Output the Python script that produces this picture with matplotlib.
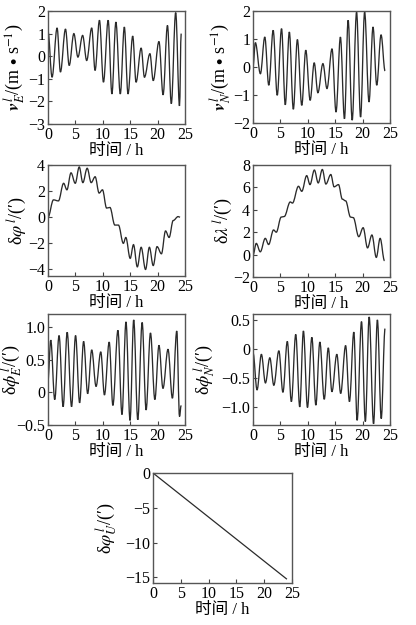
import matplotlib
matplotlib.use('Agg')
import matplotlib.pyplot as plt
from matplotlib.path import Path
from matplotlib.patches import PathPatch

plt.rcParams['mathtext.fontset'] = 'stix'
plt.rcParams['font.family'] = ['Liberation Serif', 'Noto Sans CJK SC']

# turning points of each curve (time in h, value)
vE_t = [0, 0.74, 1.66, 2.27, 3.19, 3.87, 4.72, 5.46, 6.32, 7.06, 7.98, 8.59, 9.39, 10.12,
        10.98, 11.66, 12.39, 13.19, 13.93, 14.6, 15.46, 16.07, 17.0, 17.6, 18.6, 19.2,
        20.25, 21.0, 21.8, 22.5, 23.3, 24.0, 24.3]
vE_v = [1.1, -0.93, 1.25, -0.7, 1.2, -0.41, 1.0, -0.04, 0.92, -0.19, 1.25, -0.63, 1.59, -1.15,
        1.59, -1.67, 1.51, -1.67, 1.29, -1.67, 0.89, -1.15, 0.36, -0.93, 0.11, -1.08,
        0.65, -1.71, 1.36, -2.1, 1.93, -2.2, 1.0]

vN_t = [0, 0.43, 1.35, 2.15, 2.88, 3.68, 4.42, 5.21, 5.89, 6.63, 7.36, 8.1, 8.9, 9.63,
        10.43, 11.17, 11.84, 12.76, 13.5, 14.42, 15.15, 15.95, 16.69, 17.36, 18.1, 18.9,
        19.63, 20.37, 21.17, 21.9, 22.58, 23.37, 24.1]
vN_v = [0, 0.87, -0.24, 1.07, -0.65, 1.31, -1.01, 1.37, -1.35, 1.25, -1.51, 0.98, -1.37, 0.6,
        -1.19, 0.15, -0.92, 0.12, -0.77, 0.65, -1.61, 1.07, -1.85, 1.67, -1.9, 1.96,
        -1.79, 1.96, -1.25, 1.43, -0.65, 1.15, -0.14]

lat_t = [0, 1.0, 1.9, 2.85, 3.45, 4.2, 4.97, 5.7, 6.36, 7.15, 7.88, 8.6, 9.33, 9.94, 10.7,
         11.3, 12.2, 12.85, 13.75, 14.2, 15.0, 15.6, 16.3, 17.0, 17.8, 18.5, 19.2, 19.9,
         20.7, 21.45, 22.1, 22.85, 23.75, 24.1]
lat_v = [0, 1.33, 1.25, 2.6, 2.1, 3.4, 2.6, 3.85, 2.65, 3.75, 2.65, 3.1, 1.85, 2.1, 0.7,
         0.75, -0.6, -0.6, -2.0, -1.55, -3.15, -2.1, -3.8, -2.3, -4.0, -2.3, -3.7, -2.25,
         -2.8, -1.05, -1.55, -0.25, 0.05, 0]

lon_t = [0, 0.6, 1.33, 2.24, 2.85, 3.75, 4.25, 5.15, 5.7, 6.8, 7.2, 8.3, 8.9, 9.8, 10.4,
         11.2, 11.9, 12.65, 13.3, 14.2, 14.8, 15.6, 16.3, 16.9, 17.8, 18.3, 19.3, 20.1,
         20.9, 21.7, 22.5, 23.2, 24.0]
lon_v = [-0.05, 1.0, 0.25, 1.45, 0.9, 2.2, 2.0, 3.35, 3.4, 4.7, 4.6, 6.1, 5.65, 7.05, 6.25,
         7.55, 6.4, 7.6, 6.3, 7.15, 6.05, 6.25, 4.95, 4.8, 3.35, 3.3, 1.6, 2.4,
         0.6, 1.75, -0.25, 1.45, -0.55]

phE_t = [0, 0.5, 1.23, 2.02, 2.76, 3.5, 4.3, 5.03, 5.77, 6.5, 7.24, 7.98, 8.77, 9.63, 10.3,
         11.17, 11.84, 12.76, 13.5, 14.23, 14.97, 15.64, 16.38, 17.18, 17.9, 18.7, 19.5,
         20.25, 20.98, 21.9, 22.7, 23.5, 24.0, 24.3]
phE_v = [0.19, 0.8, -0.11, 0.87, -0.22, 0.92, -0.22, 0.87, -0.16, 0.78, -0.02, 0.65, 0.09,
         0.62, -0.04, 0.77, -0.2, 0.95, -0.34, 1.08, -0.43, 1.11, -0.42, 1.07, -0.27, 0.91,
         -0.11, 0.72, 0.06, 0.66, -0.09, 0.94, -0.37, -0.2]

phN_t = [0, 0.74, 1.53, 2.27, 3.07, 3.8, 4.72, 5.46, 6.26, 7.0, 7.8, 8.53, 9.2, 9.94, 10.74,
         11.47, 12.2, 13.0, 13.74, 14.4, 15.3, 16.0, 16.9, 17.6, 18.4, 19.0, 19.8, 20.5,
         21.2, 22.0, 22.7, 23.4, 24.1]
phN_v = [-0.06, -0.7, -0.09, -0.58, -0.15, -0.62, -0.03, -0.74, 0.13, -0.9, 0.25, -0.99,
         0.31, -1.0, 0.2, -0.96, 0.12, -0.86, 0.02, -0.73, -0.09, -0.76, 0.06, -0.9, 0.29,
         -1.22, 0.47, -1.24, 0.55, -1.28, 0.5, -1.19, 0.35]

phU_t = [0, 24.0]
phU_v = [0, -15.2]

ylabels = [r'$\mathbfit{v}_{E}^{\,l}$/(m $\bullet$ s$^{-1}$)',
           r'$\mathbfit{v}_{N}^{\,l}$/(m $\bullet$ s$^{-1}$)',
           r'δ$\varphi^{\,l}$/(′)',
           r'δ$\lambda^{\,l}$/(′)',
           r'δ$\phi_{E}^{\,l}$/(′)',
           r'δ$\phi_{N}^{\,l}$/(′)',
           r'δ$\varphi_{U}^{\,l}$/(′)']

W, H = 416, 625


def rect(l, t, r, b):
    return [l / W, 1 - b / H, (r - l) / W, (b - t) / H]


def smooth(ax, ts, vs, color='#2a2a2a', lw=0.95):
    # cubic segments between turning points, flat at each turning point
    verts = [(ts[0], vs[0])]
    codes = [Path.MOVETO]
    for i in range(len(ts) - 1):
        d = ts[i + 1] - ts[i]
        verts += [(ts[i] + 0.36 * d, vs[i]), (ts[i + 1] - 0.36 * d, vs[i + 1]),
                  (ts[i + 1], vs[i + 1])]
        codes += [Path.CURVE4] * 3
    ax.add_patch(PathPatch(Path(verts, codes), fill=False, edgecolor=color, lw=lw))


def style(ax, ylim, yticks, ylabs, ylabel, label_x):
    ax.set_xlim(0, 25)
    ax.set_ylim(*ylim)
    ax.set_xticks([0, 5, 10, 15, 20, 25])
    ax.set_yticks(yticks)
    ax.set_yticklabels(ylabs)
    ax.tick_params(direction='in', length=3, labelsize=11.5, pad=2, color='#444444')
    for s in ax.spines.values():
        s.set_color('#555555')
        s.set_linewidth(1.0)
    ax.set_xlabel('时间 / h', fontsize=12, labelpad=0)
    ax.set_ylabel(ylabel, fontsize=13)
    # label_x: right edge of the rotated label, in pixels from the axes' left edge
    ax.yaxis.set_label_coords(label_x / 137, 0.5)


fig = plt.figure(figsize=(W / 100, H / 100), dpi=100)

ax1 = fig.add_axes(rect(48, 11, 185, 124))
smooth(ax1, vE_t, vE_v)
style(ax1, (-3, 2), [-3, -2, -1, 0, 1, 2], ['−3', '−2', '−1', '0', '1', '2'], ylabels[0], -20)

ax2 = fig.add_axes(rect(253, 11, 390, 123))
smooth(ax2, vN_t, vN_v)
style(ax2, (-2, 2), [-2, -1, 0, 1, 2], ['−2', '−1', '0', '1', '2'], ylabels[1], -19)

ax3 = fig.add_axes(rect(48, 165, 185, 276))
smooth(ax3, lat_t, lat_v)
style(ax3, (-4.5, 4), [-4, -2, 0, 2, 4], ['−4', '−2', '0', '2', '4'], ylabels[2], -19)

ax4 = fig.add_axes(rect(253, 165, 390, 277))
smooth(ax4, lon_t, lon_v)
style(ax4, (-2, 8), [-2, 0, 2, 4, 6, 8], ['−2', '0', '2', '4', '6', '8'], ylabels[3], -18)

ax5 = fig.add_axes(rect(48, 314, 185, 425))
smooth(ax5, phE_t, phE_v)
style(ax5, (-0.5, 1.2), [-0.5, 0, 0.5, 1.0], ['−0.5', '0', '0.5', '1.0'], ylabels[4], -23)

ax6 = fig.add_axes(rect(253, 314, 390, 425))
smooth(ax6, phN_t, phN_v)
style(ax6, (-1.3, 0.6), [-1.0, -0.5, 0, 0.5], ['−1.0', '−0.5', '0', '0.5'], ylabels[5], -35)

ax7 = fig.add_axes(rect(153, 473, 292, 583))
ax7.plot(phU_t, phU_v, color='#2a2a2a', lw=0.9)
style(ax7, (-15.8, 0), [-15, -10, -5, 0], ['−15', '−10', '−5', '0'], ylabels[6], -33)

fig.savefig('out.png', dpi=100)
